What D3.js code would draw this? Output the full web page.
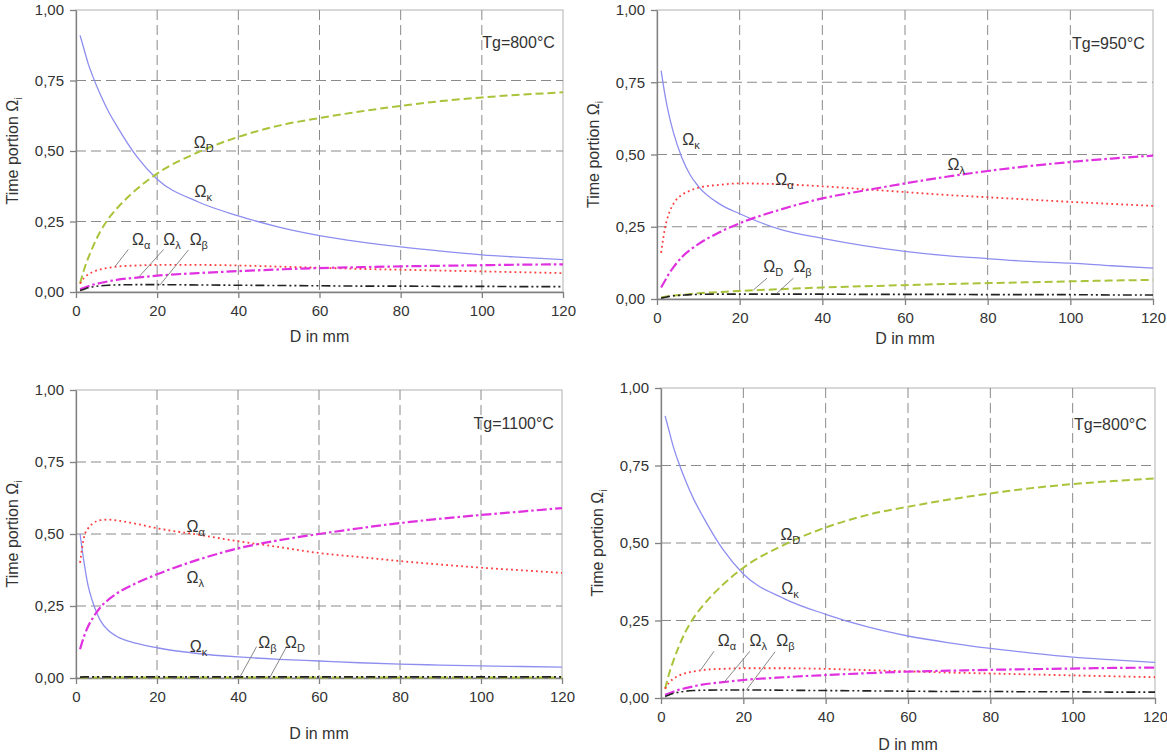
<!DOCTYPE html>
<html lang="en">
<head>
<meta charset="utf-8">
<title>Time portion vs D</title>
<script src="https://cdn.jsdelivr.net/npm/d3@7"></script>
<style>
  body { margin: 0; background: #fff; }
  svg { font-family: "Liberation Sans", Arial, sans-serif; }
  .tick text { font-size: 15px; fill: #333; }
  .axis path, .axis line { stroke: #808080; stroke-width: 1.3; }
  .grid { stroke: #8a8a8a; stroke-width: 1; stroke-dasharray: 10,5; }
  .frame { fill: none; stroke: #c4c4c4; stroke-width: 1.3; }
  .title { font-size: 16px; fill: #333; }
  .lab { font-size: 16px; fill: #333; }
  .leader { stroke: #7a7a7a; stroke-width: 0.9; }
</style>
</head>
<body>
<script>
// x positions (D in mm) where the curves were read
var dVals = [1, 2, 3, 4, 6, 8, 10, 15, 20, 30, 40, 50, 60, 70, 80, 90, 100, 110, 120];

// Tg = 800 C
var k800 = [0.91, 0.86, 0.81, 0.77, 0.70, 0.64, 0.59, 0.48, 0.40, 0.32, 0.27, 0.23, 0.20, 0.178, 0.16, 0.145, 0.132, 0.123, 0.115];
var D800 = [0.03, 0.08, 0.12, 0.155, 0.215, 0.26, 0.295, 0.365, 0.42, 0.495, 0.55, 0.59, 0.617, 0.64, 0.66, 0.677, 0.69, 0.70, 0.708];
var a800 = [0.03, 0.05, 0.062, 0.07, 0.08, 0.086, 0.09, 0.094, 0.096, 0.096, 0.094, 0.09, 0.086, 0.082, 0.079, 0.076, 0.073, 0.07, 0.067];
var l800 = [0.01, 0.015, 0.02, 0.025, 0.032, 0.038, 0.043, 0.051, 0.058, 0.067, 0.074, 0.08, 0.085, 0.088, 0.091, 0.093, 0.095, 0.097, 0.098];
var b800 = [0.005, 0.01, 0.015, 0.018, 0.022, 0.024, 0.025, 0.026, 0.026, 0.025, 0.024, 0.023, 0.022, 0.021, 0.021, 0.02, 0.02, 0.019, 0.019];

// Tg = 950 C
var k950 = [0.79, 0.70, 0.63, 0.575, 0.49, 0.43, 0.39, 0.33, 0.295, 0.24, 0.21, 0.185, 0.165, 0.15, 0.14, 0.13, 0.124, 0.115, 0.107];
var D950 = [0.005, 0.008, 0.01, 0.012, 0.015, 0.017, 0.02, 0.024, 0.028, 0.034, 0.04, 0.044, 0.048, 0.052, 0.055, 0.058, 0.061, 0.064, 0.066];
var a950 = [0.16, 0.25, 0.30, 0.33, 0.36, 0.375, 0.385, 0.395, 0.40, 0.397, 0.39, 0.38, 0.37, 0.36, 0.352, 0.344, 0.336, 0.329, 0.322];
var l950 = [0.04, 0.065, 0.09, 0.11, 0.145, 0.17, 0.19, 0.23, 0.262, 0.31, 0.348, 0.375, 0.40, 0.423, 0.443, 0.46, 0.474, 0.486, 0.496];
var b950 = [0.003, 0.006, 0.009, 0.011, 0.013, 0.015, 0.016, 0.017, 0.017, 0.017, 0.017, 0.016, 0.016, 0.016, 0.015, 0.015, 0.015, 0.014, 0.014];

// Tg = 1100 C
var k1100 = [0.50, 0.40, 0.32, 0.27, 0.20, 0.165, 0.145, 0.12, 0.105, 0.085, 0.073, 0.065, 0.059, 0.053, 0.048, 0.045, 0.042, 0.04, 0.038];
var D1100 = [0.002, 0.002, 0.002, 0.002, 0.002, 0.002, 0.002, 0.002, 0.002, 0.002, 0.002, 0.002, 0.002, 0.002, 0.002, 0.002, 0.002, 0.002, 0.002];
var a1100 = [0.40, 0.49, 0.52, 0.535, 0.548, 0.55, 0.547, 0.535, 0.52, 0.498, 0.475, 0.455, 0.434, 0.42, 0.406, 0.394, 0.383, 0.374, 0.365];
var l1100 = [0.10, 0.145, 0.18, 0.205, 0.245, 0.272, 0.293, 0.33, 0.36, 0.41, 0.45, 0.478, 0.50, 0.52, 0.538, 0.553, 0.566, 0.578, 0.59];
var b1100 = [0.003, 0.004, 0.004, 0.004, 0.004, 0.004, 0.004, 0.004, 0.004, 0.004, 0.004, 0.004, 0.004, 0.004, 0.004, 0.004, 0.004, 0.004, 0.004];

var xTicks = [0, 20, 40, 60, 80, 100, 120];
var yTicks = [0, 0.25, 0.5, 0.75, 1];

// curve labels: [subscript, D, value] and leader lines [D1, v1, D2, v2]
var lab800 = [["D", 29, 0.51], ["κ", 29.2, 0.337], ["α", 13.8, 0.167], ["λ", 21.5, 0.167], ["β", 28, 0.167]];
var lead800 = [[12.9, 0.151, 9.6, 0.09], [21.6, 0.151, 15.4, 0.052], [27.7, 0.149, 20.7, 0.025]];
var lab950 = [["κ", 6.1, 0.533], ["α", 28.6, 0.394], ["λ", 70.3, 0.446], ["D", 25.7, 0.094], ["β", 33, 0.094]];
var lead950 = [[26.6, 0.072, 23.3, 0.031], [33, 0.072, 29, 0.02]];
var lab1100 = [["α", 27.3, 0.508], ["λ", 27.3, 0.329], ["κ", 28.1, 0.091], ["β", 45, 0.103], ["D", 51.6, 0.103]];
var lead1100 = [[44.6, 0.109, 40.5, 0.004], [52, 0.109, 47.9, 0.003]];

var styles = {
  k: {color: "#8e8ef0", width: 1.3, dash: null},
  D: {color: "#a9c43a", width: 2, dash: "8,4"},
  a: {color: "#ff3b3b", width: 1.8, dash: "1.8,3.2"},
  l: {color: "#e030e0", width: 2.2, dash: "10,3,2.5,3"},
  b: {color: "#222222", width: 1.6, dash: "9,3,2,3,2,3"}
};
var order = ["k", "D", "a", "l", "b"];

var s800 = {k: k800, D: D800, a: a800, l: l800, b: b800};
var s950 = {k: k950, D: D950, a: a950, l: l950, b: b950};
var s1100 = {k: k1100, D: D1100, a: a1100, l: l1100, b: b1100};

var panels = [
  {x0: 76, x1: 563, y0: 10, y1: 292, s: s800, tg: "Tg=800°C", lab: lab800, lead: lead800, tOff: 45},
  {x0: 657, x1: 1153, y0: 10, y1: 299, s: s950, tg: "Tg=950°C", lab: lab950, lead: lead950, tOff: 40},
  {x0: 76, x1: 562, y0: 390, y1: 678, s: s1100, tg: "Tg=1100°C", lab: lab1100, lead: lead1100, tOff: 56},
  {x0: 661, x1: 1155, y0: 388, y1: 698, s: s800, tg: "Tg=800°C", lab: lab800, lead: lead800, tOff: 47}
];

var loc = d3.formatLocale({decimal: ",", thousands: ".", grouping: [3], currency: ["", ""]});
var yFmt = loc.format(".2f");

var svg = d3.select("body").append("svg").attr("width", 1167).attr("height", 756);

function omega(sel, sub) {
  sel.append("tspan").text("Ω");
  sel.append("tspan").attr("font-size", "11px").attr("dy", 4).text(sub);
}

panels.forEach(function(p) {
  var x = d3.scaleLinear().domain([0, 120]).range([p.x0, p.x1]);
  var y = d3.scaleLinear().domain([0, 1]).range([p.y1, p.y0]);
  var g = svg.append("g");

  g.append("rect").attr("class", "frame")
    .attr("x", p.x0).attr("y", p.y0).attr("width", p.x1 - p.x0).attr("height", p.y1 - p.y0);

  // grid
  g.selectAll(".vg").data(xTicks.slice(1, -1)).enter().append("line").attr("class", "grid")
    .attr("x1", function(d) { return x(d); }).attr("x2", function(d) { return x(d); })
    .attr("y1", p.y0).attr("y2", p.y1);
  g.selectAll(".hg").data(yTicks.slice(1, -1)).enter().append("line").attr("class", "grid")
    .attr("y1", function(d) { return y(d); }).attr("y2", function(d) { return y(d); })
    .attr("x1", p.x0).attr("x2", p.x1);

  g.append("g").attr("class", "axis").attr("transform", "translate(0," + p.y1 + ")")
    .call(d3.axisBottom(x).tickValues(xTicks).tickSize(6).tickPadding(7).tickSizeOuter(0));
  g.append("g").attr("class", "axis").attr("transform", "translate(" + p.x0 + ",0)")
    .call(d3.axisLeft(y).tickValues(yTicks).tickFormat(yFmt).tickSize(6).tickPadding(6).tickSizeOuter(0));

  // curves
  var line = d3.line().x(function(d) { return x(d[0]); }).y(function(d) { return y(d[1]); })
    .curve(d3.curveMonotoneX);
  order.forEach(function(key) {
    var st = styles[key];
    var pts = dVals.map(function(d, i) { return [d, p.s[key][i]]; });
    g.append("path").datum(pts).attr("d", line)
      .attr("fill", "none").attr("stroke", st.color).attr("stroke-width", st.width)
      .attr("stroke-dasharray", st.dash);
  });

  // leader lines and labels
  p.lead.forEach(function(l) {
    g.append("line").attr("class", "leader")
      .attr("x1", x(l[0])).attr("y1", y(l[1])).attr("x2", x(l[2])).attr("y2", y(l[3]));
  });
  p.lab.forEach(function(l) {
    var t = g.append("text").attr("class", "lab").attr("x", x(l[1])).attr("y", y(l[2]));
    omega(t, l[0]);
  });

  g.append("text").attr("class", "lab").attr("text-anchor", "end")
    .attr("x", x(118)).attr("y", y(0.865)).attr("font-size", "14px").text(p.tg);

  // axis titles
  g.append("text").attr("class", "title").attr("text-anchor", "middle")
    .attr("x", (p.x0 + p.x1) / 2).attr("y", p.y1 + p.tOff + 5).text("D in mm");
  var yt = g.append("text").attr("class", "title").attr("text-anchor", "middle")
    .attr("transform", "translate(" + (p.x0 - 58) + "," + ((p.y0 + p.y1) / 2) + ") rotate(-90)");
  yt.append("tspan").text("Time portion Ω");
  yt.append("tspan").attr("font-size", "10px").attr("dy", 4).text("i");
});
</script>
</body>
</html>
